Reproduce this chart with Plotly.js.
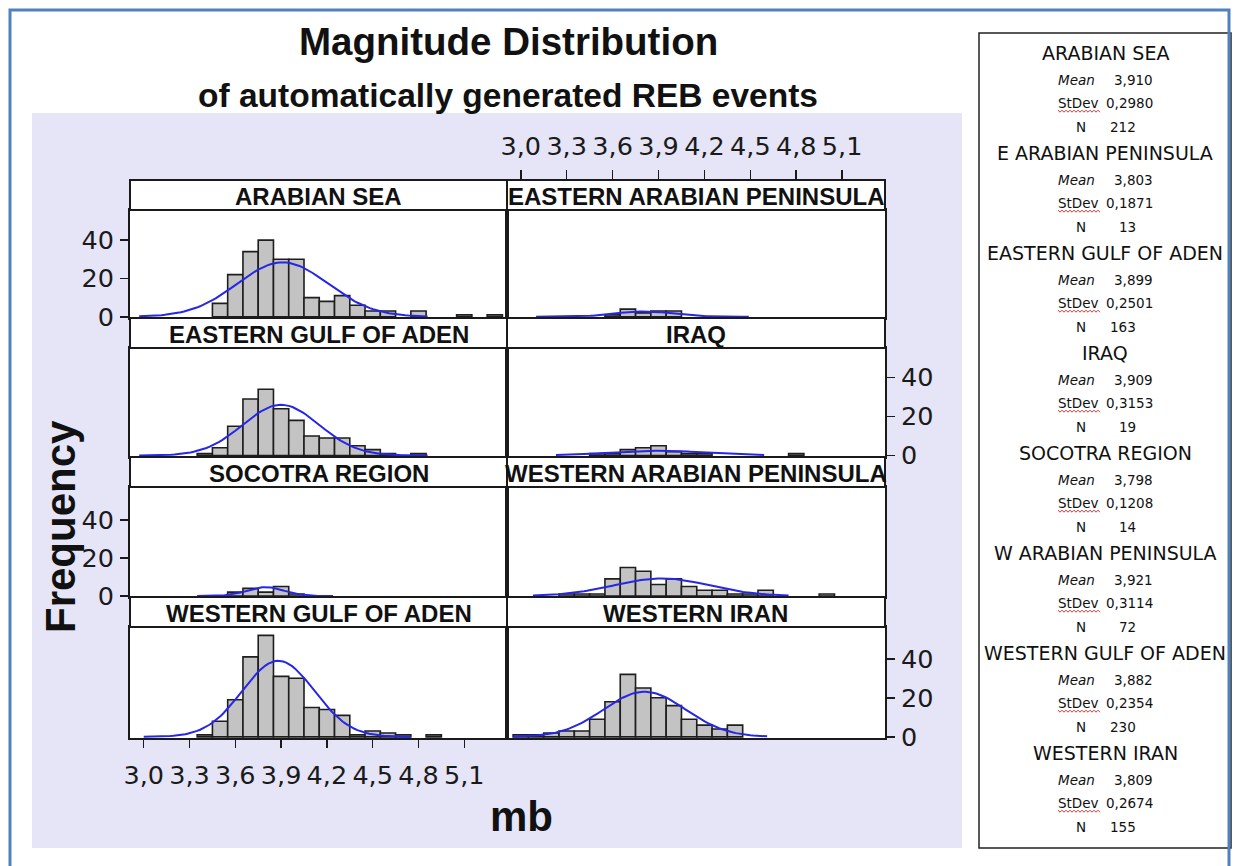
<!DOCTYPE html>
<html><head><meta charset="utf-8">
<script src="https://cdn.plot.ly/plotly-3.0.1.min.js"></script>
<style>html,body{margin:0;padding:0;background:#fff;} #chart{width:1234px;height:866px;}</style>
</head><body><div id="chart"></div>
<script>
// ---------- data ----------
const panelTitles = ['ARABIAN SEA','EASTERN ARABIAN PENINSULA','EASTERN GULF OF ADEN','IRAQ',
                     'SOCOTRA REGION','WESTERN ARABIAN PENINSULA','WESTERN GULF OF ADEN','WESTERN IRAN'];
const boxTitles = ['ARABIAN SEA','E ARABIAN PENINSULA','EASTERN GULF OF ADEN','IRAQ',
                   'SOCOTRA REGION','W ARABIAN PENINSULA','WESTERN GULF OF ADEN','WESTERN IRAN'];
const means  = [3.910, 3.803, 3.899, 3.909, 3.798, 3.921, 3.882, 3.809];
const stdevs = [0.2980, 0.1871, 0.2501, 0.3153, 0.1208, 0.3114, 0.2354, 0.2674];
const totals = [212, 13, 163, 19, 14, 72, 230, 155];
const meanText  = ['3,910','3,803','3,899','3,909','3,798','3,921','3,882','3,809'];
const stdevText = ['0,2980','0,1871','0,2501','0,3153','0,1208','0,3114','0,2354','0,2674'];
const binWidth = 0.1;

const arabianSeaBins = [3.5,3.6,3.7,3.8,3.9,4.0,4.1,4.2,4.3,4.4,4.5,4.6,4.8,5.1,5.3];
const arabianSeaFreq = [7,22,34,40,30,30,10,8,11,6,3,3,3,1,1];
const eArabianBins = [3.6,3.7,3.8,3.9,4.0];
const eArabianFreq = [1,4,2,3,3];
const eGulfBins = [3.4,3.5,3.6,3.7,3.8,3.9,4.0,4.1,4.2,4.3,4.4,4.5,4.6,4.8];
const eGulfFreq = [1,4,15,29,34,24,18,10,9,9,5,3,1,1];
const iraqBins = [3.5,3.6,3.7,3.8,3.9,4.0,4.1,4.2,4.8];
const iraqFreq = [1,1,3,4,5,2,1,1,1];
const socotraBins = [3.6,3.7,3.8,3.9,4.0];
const socotraFreq = [2,4,2,5,1];
const wArabianBins = [3.3,3.4,3.5,3.6,3.7,3.8,3.9,4.0,4.1,4.2,4.3,4.4,4.5,4.6,5.0];
const wArabianFreq = [1,1,1,9,15,13,6,9,5,3,3,1,1,3,1];
const wGulfBins = [3.4,3.5,3.6,3.7,3.8,3.9,4.0,4.1,4.2,4.3,4.4,4.5,4.6,4.7,4.9];
const wGulfFreq = [1,8,19,41,52,31,30,15,14,11,1,3,2,1,1];
const wIranBins = [3.0,3.1,3.2,3.3,3.4,3.5,3.6,3.7,3.8,3.9,4.0,4.1,4.2,4.3,4.4];
const wIranFreq = [1,1,2,3,3,9,18,32,25,20,16,9,6,4,6];

// extent of the fitted normal curve in each panel
const fitStart = [2.97, 3.10, 2.97, 3.23, 3.35, 3.08, 3.00, 2.95];
const fitEnd   = [4.86, 4.49, 4.86, 4.59, 4.24, 4.75, 4.75, 4.61];

const xTickVals = [3.0,3.3,3.6,3.9,4.2,4.5,4.8,5.1];
const xTickText = ['3,0','3,3','3,6','3,9','4,2','4,5','4,8','5,1'];
const yTickVals = [0,20,40];
const yTickText = ['0','20','40'];

const allBins = [arabianSeaBins,eArabianBins,eGulfBins,iraqBins,socotraBins,wArabianBins,wGulfBins,wIranBins];
const allFreq = [arabianSeaFreq,eArabianFreq,eGulfFreq,iraqFreq,socotraFreq,wArabianFreq,wGulfFreq,wIranFreq];

// ---------- layout geometry ----------
const W = 1234, H = 866;
const px = x => x / W, py = y => 1 - y / H;
const colX = [[130,507],[507,885]];
const rowPlot  = [[210,317.9],[348,456.7],[487,597.1],[627,738]];
const rowStrip = [[180,210],[318,348],[457,487],[597,627]];
const rowYRange = [[-0.6,55.7],[-0.6,55.1],[-0.6,57.4],[-0.6,56.3]];
const xRange = [2.91, 5.38];

const tickFont = {family:'DejaVu Sans, Verdana, sans-serif', size:25.5, color:'#1a1a1a'};
const lineCol = '#1a1a1a';

const traces = [];
const layout = {
  width: W, height: H, margin:{l:0,r:0,t:0,b:0},
  paper_bgcolor:'#ffffff', plot_bgcolor:'rgba(0,0,0,0)',
  showlegend:false, barmode:'overlay', separators:', ',
  shapes:[], annotations:[]
};

for (let i = 0; i < 8; i++) {
  const row = Math.floor(i/2), col = i % 2;
  const sfx = i === 0 ? '' : String(i+1);
  traces.push({
    type:'bar', x: allBins[i], y: allFreq[i], width: binWidth,
    xaxis:'x'+sfx, yaxis:'y'+sfx, hoverinfo:'skip',
    marker:{color:'#c3c3c3', line:{color:'#1e1e1e', width:1.6}}
  });
  // fitted normal curve from the panel statistics
  const cx = [], cy = [];
  const nPts = 90;
  const amp = totals[i]*binWidth/(stdevs[i]*Math.sqrt(2*Math.PI));
  for (let k = 0; k <= nPts; k++) {
    const x = fitStart[i] + (fitEnd[i]-fitStart[i])*k/nPts;
    cx.push(x);
    cy.push(amp*Math.exp(-0.5*Math.pow((x-means[i])/stdevs[i],2)));
  }
  traces.push({
    type:'scatter', mode:'lines', x:cx, y:cy, xaxis:'x'+sfx, yaxis:'y'+sfx,
    hoverinfo:'skip', line:{color:'#2626e8', width:2}
  });

  const xa = {
    domain:[px(colX[col][0]), px(colX[col][1])], range:xRange, anchor:'y'+sfx,
    showline:true, mirror:true, linecolor:lineCol, linewidth:2,
    showgrid:false, zeroline:false, ticks:'', showticklabels:false, fixedrange:true
  };
  if (i === 6) {
    Object.assign(xa, {ticks:'outside', ticklen:8, tickwidth:1.5, tickcolor:lineCol,
      tickvals:xTickVals, ticktext:xTickText, showticklabels:true, tickfont:tickFont,
      ticklabelstandoff:5});
  }
  const ya = {
    domain:[py(rowPlot[row][1]), py(rowPlot[row][0])], range:rowYRange[row], anchor:'x'+sfx,
    showline:true, mirror:true, linecolor:lineCol, linewidth:2,
    showgrid:false, zeroline:false, ticks:'', showticklabels:false, fixedrange:true
  };
  if ((row === 0 || row === 2) && col === 0) {
    Object.assign(ya, {side:'left', ticks:'outside', ticklen:8, tickwidth:1.5, tickcolor:lineCol,
      tickvals:yTickVals, ticktext:yTickText, showticklabels:true, tickfont:tickFont, ticklabelstandoff:1});
  }
  if ((row === 1 || row === 3) && col === 1) {
    Object.assign(ya, {side:'right', ticks:'outside', ticklen:8, tickwidth:1.5, tickcolor:lineCol,
      tickvals:yTickVals, ticktext:yTickText, showticklabels:true, tickfont:tickFont, ticklabelstandoff:1});
  }
  layout['xaxis'+sfx] = xa;
  layout['yaxis'+sfx] = ya;
}

// top axis for the right column (drawn above the strips)
traces.push({type:'scatter', x:[], y:[], xaxis:'x9', yaxis:'y9', hoverinfo:'skip'});
layout.xaxis9 = {domain:[px(507), px(885)], range:xRange, anchor:'y9', side:'top',
  showline:false, showgrid:false, zeroline:false, ticks:'outside', ticklen:9, tickwidth:1.5,
  tickcolor:lineCol, tickvals:xTickVals, ticktext:xTickText, tickfont:tickFont,
  ticklabelstandoff:5, fixedrange:true};
layout.yaxis9 = {domain:[py(181), py(180)], anchor:'x9', visible:false, range:[0,1], fixedrange:true};

// ---------- decorations ----------
const S = layout.shapes, A = layout.annotations;
function rectPx(x0,y0,x1,y1,opt){
  S.push(Object.assign({type:'rect', xref:'paper', yref:'paper',
    x0:px(x0), x1:px(x1), y0:py(y1), y1:py(y0), layer:'below'}, opt));
}
rectPx(32,113,962,848,{fillcolor:'#e5e5f7', line:{width:0}});
rectPx(130,180,885,739,{fillcolor:'#ffffff', line:{width:0}});
rectPx(979,33,1231,848,{fillcolor:'#ffffff', line:{color:'#222', width:1.5}});
rectPx(10,10,1229,872,{fillcolor:'rgba(0,0,0,0)', line:{color:'#4f81bd', width:3}, layer:'above'});

for (let i = 0; i < 8; i++) {
  const row = Math.floor(i/2), col = i % 2;
  rectPx(colX[col][0], rowStrip[row][0], colX[col][1], rowStrip[row][1],
    {fillcolor:'#ffffff', line:{color:lineCol, width:2}, layer:'above'});
  A.push({text:'<b>'+panelTitles[i]+'</b>', xref:'paper', yref:'paper',
    x:px((colX[col][0]+colX[col][1])/2), y:py((rowStrip[row][0]+rowStrip[row][1])/2+1),
    xanchor:'center', yanchor:'middle', showarrow:false,
    font:{family:'Liberation Sans, Arial, sans-serif', size:24, color:'#111'}});
}

A.push({text:'<b>Magnitude Distribution</b>', xref:'paper', yref:'paper', x:px(508), y:py(42),
  showarrow:false, xanchor:'center', yanchor:'middle',
  font:{family:'Liberation Sans, Arial, sans-serif', size:38.5, color:'#111'}});
A.push({text:'<b>of automatically generated REB events</b>', xref:'paper', yref:'paper', x:px(508), y:py(96),
  showarrow:false, xanchor:'center', yanchor:'middle',
  font:{family:'Liberation Sans, Arial, sans-serif', size:33.5, color:'#111'}});
A.push({text:'<b>Frequency</b>', xref:'paper', yref:'paper', x:px(60), y:py(527), textangle:-90,
  showarrow:false, xanchor:'center', yanchor:'middle',
  font:{family:'Liberation Sans, Arial, sans-serif', size:42, color:'#111'}});
A.push({text:'<b>mb</b>', xref:'paper', yref:'paper', x:px(521), y:py(816),
  showarrow:false, xanchor:'center', yanchor:'middle',
  font:{family:'Liberation Sans, Arial, sans-serif', size:42, color:'#111'}});

// statistics box
const boxFontBig = {family:'DejaVu Sans, Tahoma, sans-serif', size:19, color:'#111'};
const boxFontSmall = {family:'DejaVu Sans, Tahoma, sans-serif', size:13.5, color:'#111'};
for (let i = 0; i < 8; i++) {
  const ty = 52.7 + 100*i;
  const base = {xref:'paper', yref:'paper', showarrow:false, yanchor:'middle'};
  A.push(Object.assign({text:boxTitles[i], x:px(1105), y:py(ty), xanchor:'center', font:boxFontBig}, base));
  A.push(Object.assign({text:'<i>Mean</i>', x:px(1056), y:py(ty+27.5), xanchor:'left', font:boxFontSmall}, base));
  A.push(Object.assign({text:meanText[i], x:px(1155), y:py(ty+27.5), xanchor:'right', font:boxFontSmall}, base));
  A.push(Object.assign({text:'StDev', x:px(1056), y:py(ty+50), xanchor:'left', font:boxFontSmall}, base));
  A.push(Object.assign({text:stdevText[i], x:px(1155), y:py(ty+50), xanchor:'right', font:boxFontSmall}, base));
  A.push(Object.assign({text:'N', x:px(1074), y:py(ty+74), xanchor:'left', font:boxFontSmall}, base));
  A.push(Object.assign({text:String(totals[i]), x:px(1138), y:py(ty+74), xanchor:'right', font:boxFontSmall}, base));
  // red spell-check squiggle under "StDev"
  let p = '';
  const yy = ty + 58;
  for (let k = 0, x = 1058; x <= 1100; k++, x += 2) {
    p += (k === 0 ? 'M' : 'L') + px(x).toFixed(5) + ',' + py(yy + (k % 2 ? 1.5 : -0.5)).toFixed(5) + ' ';
  }
  S.push({type:'path', xref:'paper', yref:'paper', path:p, line:{color:'#e03030', width:1}, layer:'above'});
}

Plotly.newPlot('chart', traces, layout, {displayModeBar:false, staticPlot:true});
</script></body></html>
